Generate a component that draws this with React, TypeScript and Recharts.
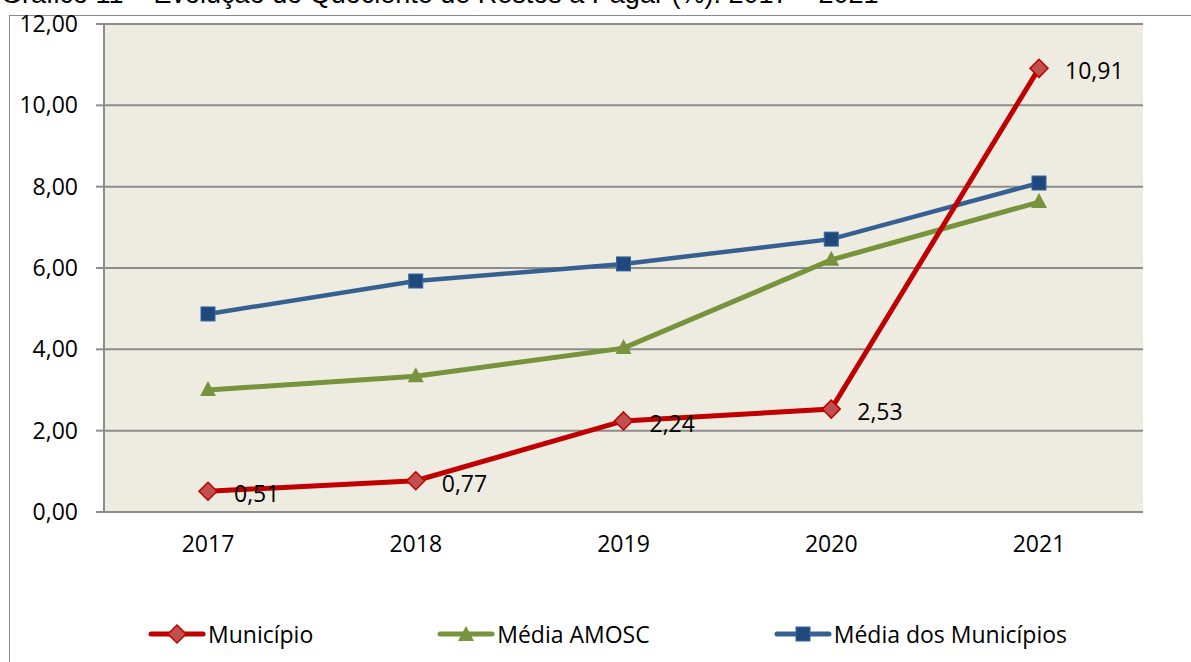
import { CartesianGrid, Legend, LabelList, Line, LineChart, XAxis, YAxis } from 'recharts'

const years = ['2017', '2018', '2019', '2020', '2021']
const municipio = [0.51, 0.77, 2.24, 2.53, 10.91]
const mediaAmosc = [3.0, 3.34, 4.03, 6.2, 7.62]
const mediaMunicipios = [4.87, 5.68, 6.1, 6.71, 8.09]
const yTicks = [0, 2, 4, 6, 8, 10, 12]

const data = years.map((year, i) => ({
  year,
  municipio: municipio[i],
  mediaAmosc: mediaAmosc[i],
  mediaMunicipios: mediaMunicipios[i],
}))

const FONT = '"Open Sans", "Noto Sans", sans-serif'
const FS = 23
const RED = '#C00000'
const GREEN = '#77933C'
const BLUE = '#376092'

const fmt = (v: number) => v.toFixed(2).replace('.', ',')

function Diamond({ cx, cy }: any) {
  if (cx == null || cy == null) return null
  const r = 9
  return (
    <polygon
      points={`${cx},${cy - r} ${cx + r},${cy} ${cx},${cy + r} ${cx - r},${cy}`}
      fill="#C0504D"
      stroke={RED}
      strokeWidth={1.5}
    />
  )
}

function Triangle({ cx, cy }: any) {
  if (cx == null || cy == null) return null
  return <polygon points={`${cx},${cy - 9} ${cx + 8},${cy + 6} ${cx - 8},${cy + 6}`} fill={GREEN} />
}

function Square({ cx, cy }: any) {
  if (cx == null || cy == null) return null
  return <rect x={cx - 7} y={cy - 7} width={14} height={14} fill="#1F497D" stroke="#3A66A0" strokeWidth={1} />
}

function ValueLabel({ x, y, value }: any) {
  return (
    <text x={x + 26} y={y + 2} dominantBaseline="central" fill="#000" fontSize={FS} fontFamily={FONT}>
      {fmt(value)}
    </text>
  )
}

const legendItems = [
  { name: 'Município', color: RED, marker: 'diamond' },
  { name: 'Média AMOSC', color: GREEN, marker: 'triangle' },
  { name: 'Média dos Municípios', color: BLUE, marker: 'square' },
]

function LegendIcon({ color, marker }: { color: string; marker: string }) {
  return (
    <svg width={58} height={22} style={{ display: 'block' }}>
      <line x1={3} y1={11} x2={55} y2={11} stroke={color} strokeWidth={5} strokeLinecap="round" />
      {marker === 'diamond' && <Diamond cx={29} cy={11} />}
      {marker === 'triangle' && <Triangle cx={29} cy={12} />}
      {marker === 'square' && <Square cx={29} cy={11} />}
    </svg>
  )
}

function ChartLegend() {
  return (
    <div style={{ display: 'flex', alignItems: 'center', paddingLeft: 148, gap: 124 }}>
      {legendItems.map((item) => (
        <div key={item.name} style={{ display: 'flex', alignItems: 'center' }}>
          <LegendIcon color={item.color} marker={item.marker} />
          <span style={{ fontFamily: FONT, fontSize: FS, color: '#000', marginLeft: 2 }}>{item.name}</span>
        </div>
      ))}
    </div>
  )
}

export default function App() {
  return (
    <div style={{ position: 'fixed', left: 0, top: 0, width: 1191, height: 662, overflow: 'hidden', background: '#fff' }}>
      <div
        style={{
          position: 'absolute',
          left: 1,
          top: -19,
          fontFamily: '"Liberation Sans", Arial, sans-serif',
          fontSize: 27,
          lineHeight: '27px',
          whiteSpace: 'nowrap',
          color: '#000',
        }}
      >
        Gráfico 11 – Evolução do Quociente de Restos a Pagar (%): 2017 – 2021
      </div>
      <div
        style={{
          position: 'absolute',
          left: 9,
          top: 15,
          width: 1300,
          height: 800,
          border: '1px solid #8a8a8a',
          boxSizing: 'border-box',
        }}
      />
      <div style={{ position: 'absolute', left: 0, top: 0 }}>
        <LineChart width={1191} height={662} data={data} margin={{ top: 24, right: 48, bottom: 120, left: 0 }}>
          <CartesianGrid vertical={false} fill="#EEECE1" stroke="#8C8C8C" strokeWidth={2} />
          <XAxis
            dataKey="year"
            padding={{ left: 104, right: 104 }}
            height={30}
            tickLine={false}
            axisLine={{ stroke: '#8C8C8C', strokeWidth: 2 }}
            tickSize={0}
            tickMargin={24}
            tick={{ fill: '#000', fontSize: FS, fontFamily: FONT }}
          />
          <YAxis
            domain={[0, 12]}
            ticks={yTicks}
            width={104}
            tickFormatter={fmt}
            axisLine={{ stroke: '#8C8C8C', strokeWidth: 2 }}
            tickLine={{ stroke: '#8C8C8C', strokeWidth: 2 }}
            tickSize={8}
            tickMargin={18}
            tick={{ fill: '#000', fontSize: FS, fontFamily: FONT }}
          />
          <Legend
            layout="horizontal"
            verticalAlign="middle"
            align="center"
            wrapperStyle={{ top: 618, left: 0, width: 1191 }}
            content={<ChartLegend />}
          />
          <Line
            dataKey="mediaMunicipios"
            name="Média dos Municípios"
            stroke={BLUE}
            strokeWidth={4.5}
            dot={<Square />}
            activeDot={false}
            isAnimationActive={false}
          />
          <Line
            dataKey="mediaAmosc"
            name="Média AMOSC"
            stroke={GREEN}
            strokeWidth={5}
            dot={<Triangle />}
            activeDot={false}
            isAnimationActive={false}
          />
          <Line
            dataKey="municipio"
            name="Município"
            stroke={RED}
            strokeWidth={5}
            dot={<Diamond />}
            activeDot={false}
            isAnimationActive={false}
          >
            <LabelList dataKey="municipio" content={<ValueLabel />} />
          </Line>
        </LineChart>
      </div>
    </div>
  )
}
